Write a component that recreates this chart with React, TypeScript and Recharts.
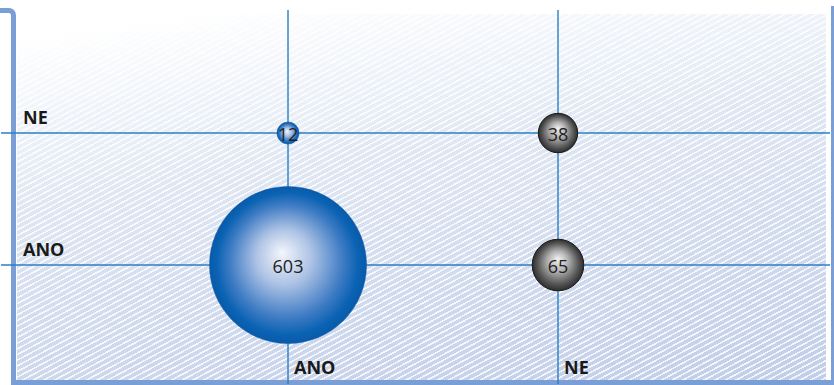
import { ScatterChart, Scatter, XAxis, YAxis, ZAxis, CartesianGrid } from "recharts";

// categories on both axes
const categories = ["ANO", "NE"];
// row where y = NE (x: ANO, NE)
const rowNE = [12, 38];
// row where y = ANO (x: ANO, NE)
const rowANO = [603, 65];

const maxValue = 603;
const tickValues = [0, 1];

const data = [
  ...rowANO.map((v, i) => ({ x: i, y: 0, z: v })),
  ...rowNE.map((v, i) => ({ x: i, y: 1, z: v })),
];

const labelStyle = {
  fontFamily: "'Open Sans', sans-serif",
  fontWeight: 700,
  fontSize: 18,
  fill: "#1a1a1a",
};

const renderXTick = (props: any) => {
  const { x, y, payload } = props;
  return (
    <text key={`xt-${payload.value}`} x={x + 6} y={y - 10} textAnchor="start" style={labelStyle}>
      {categories[payload.value]}
    </text>
  );
};

const renderYTick = (props: any) => {
  const { x, y, payload } = props;
  return (
    <text key={`yt-${payload.value}`} x={x + 22} y={y - 9} textAnchor="start" style={labelStyle}>
      {categories[payload.value]}
    </text>
  );
};

const Bubble = (props: any) => {
  const { cx, cy, payload, size, width, index } = props;
  const r = size ? Math.sqrt(size / Math.PI) : width / 2;
  const blue = payload.x === 0;
  const id = `bub-${index}-${payload.x}-${payload.y}`;
  return (
    <g>
      <defs>
        {blue ? (
          <radialGradient id={id} cx="0.5" cy="0.5" r="0.5" fx="0.46" fy="0.42">
            <stop offset="0%" stopColor="#f3f6fc" />
            <stop offset="35%" stopColor="#aec3e5" />
            <stop offset="72%" stopColor="#3f7cc4" />
            <stop offset="90%" stopColor="#0b63b4" />
            <stop offset="100%" stopColor="#085aa9" />
          </radialGradient>
        ) : (
          <radialGradient id={id} cx="0.5" cy="0.5" r="0.5" fx="0.5" fy="0.38">
            <stop offset="0%" stopColor="#f2f2f2" />
            <stop offset="40%" stopColor="#b0b0b0" />
            <stop offset="80%" stopColor="#555" />
            <stop offset="100%" stopColor="#2e2e2e" />
          </radialGradient>
        )}
      </defs>
      <circle
        cx={cx}
        cy={cy}
        r={r}
        fill={`url(#${id})`}
        stroke={blue ? "#0a5aa8" : "#1a1a1a"}
        strokeWidth={blue ? 0.5 : 1}
      />
      <text
        x={cx}
        y={cy + 1}
        textAnchor="middle"
        dominantBaseline="central"
        style={{ fontFamily: "'Open Sans', sans-serif", fontSize: 18, fill: "#222" }}
      >
        {payload.z}
      </text>
    </g>
  );
};

export default function App() {
  return (
    <div style={{ position: "absolute", left: 0, top: 0, width: 834, height: 385, overflow: "hidden" }}>
      {/* hatched background */}
      <div
        style={{
          position: "absolute",
          left: 17,
          top: 14,
          width: 809,
          height: 367,
          background:
            "repeating-linear-gradient(152deg, rgba(255,255,255,0.8) 0px, rgba(255,255,255,0.8) 1.6px, rgba(255,255,255,0) 1.6px, rgba(255,255,255,0) 5px), linear-gradient(172deg, #ffffff 5%, #e0e7f3 40%, #c1cee9 100%)",
        }}
      />
      {/* frame */}
      <div
        style={{
          position: "absolute",
          left: -10,
          top: 8,
          width: 26,
          height: 376,
          boxSizing: "border-box",
          borderRight: "5px solid #7a9fd6",
          borderTop: "5px solid #7a9fd6",
          borderTopRightRadius: 7,
        }}
      />
      <div
        style={{
          position: "absolute",
          left: 11,
          top: 380,
          width: 823,
          height: 5,
          background: "#7a9fd6",
        }}
      />
      <div
        style={{
          position: "absolute",
          left: 831,
          top: 6,
          width: 3,
          height: 379,
          background: "#7a9fd6",
        }}
      />
      <div style={{ position: "absolute", left: 0, top: 0 }}>
        <ScatterChart width={834} height={385} margin={{ top: 10, right: 4, bottom: 0, left: 0 }}>
          <CartesianGrid stroke="#2a7fc6" strokeWidth={1.4} syncWithTicks />
          <XAxis
            type="number"
            dataKey="x"
            domain={[-1.063, 2.0074]}
            ticks={tickValues}
            interval={0}
            allowDataOverflow
            height={1}
            axisLine={false}
            tickLine={false}
            tickSize={0}
            tickMargin={0}
            tick={renderXTick}
          />
          <YAxis
            type="number"
            dataKey="y"
            domain={[-0.9015, 1.932]}
            ticks={tickValues}
            interval={0}
            allowDataOverflow
            width={1}
            axisLine={false}
            tickLine={false}
            tickSize={0}
            tickMargin={0}
            tick={renderYTick}
          />
          <ZAxis type="number" dataKey="z" domain={[0, maxValue]} range={[0, Math.PI * 78.5 * 78.5]} />
          <Scatter data={data} shape={Bubble} isAnimationActive={false} />
        </ScatterChart>
      </div>
    </div>
  );
}
